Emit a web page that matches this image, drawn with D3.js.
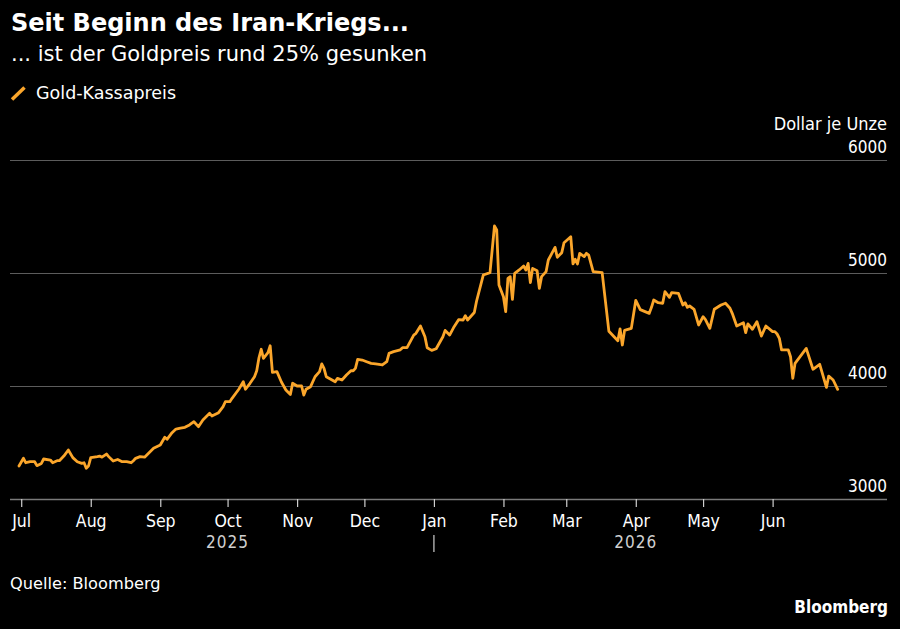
<!DOCTYPE html>
<html>
<head>
<meta charset="utf-8">
<script src="https://cdn.jsdelivr.net/npm/d3@7"></script>
<style>
  html, body { margin: 0; padding: 0; background: #000; }
  svg { display: block; }
  text { font-family: 'DejaVu Sans Condensed', 'DejaVu Sans', sans-serif; font-stretch: condensed; }
  text.wide { font-family: 'DejaVu Sans', sans-serif; font-stretch: normal; }
</style>
</head>
<body>
<svg id="chart"></svg>
<script>
// Gold-Kassapreis, Dollar je Unze
const dates = [
  "2025-06-30","2025-07-02","2025-07-03","2025-07-05","2025-07-07","2025-07-08","2025-07-10","2025-07-11","2025-07-14","2025-07-15",
  "2025-07-17","2025-07-18","2025-07-20","2025-07-22","2025-07-24","2025-07-26","2025-07-28","2025-07-29","2025-07-30","2025-07-31",
  "2025-08-01","2025-08-04","2025-08-05","2025-08-06","2025-08-08","2025-08-09","2025-08-11","2025-08-13","2025-08-15","2025-08-17",
  "2025-08-19","2025-08-20","2025-08-21","2025-08-23","2025-08-25","2025-08-27","2025-08-29",
  "2025-09-01","2025-09-03","2025-09-04","2025-09-06","2025-09-08","2025-09-10","2025-09-12","2025-09-14","2025-09-16","2025-09-18",
  "2025-09-20","2025-09-23","2025-09-24","2025-09-27","2025-09-29","2025-09-30",
  "2025-10-02","2025-10-03","2025-10-06","2025-10-08","2025-10-09","2025-10-11","2025-10-13","2025-10-14","2025-10-15","2025-10-16",
  "2025-10-17","2025-10-19","2025-10-20","2025-10-21","2025-10-23","2025-10-25","2025-10-27","2025-10-29","2025-10-30",
  "2025-11-01","2025-11-03","2025-11-04","2025-11-05","2025-11-07","2025-11-09","2025-11-11","2025-11-12","2025-11-13","2025-11-14",
  "2025-11-18","2025-11-19","2025-11-21","2025-11-23","2025-11-25","2025-11-26","2025-11-27","2025-11-28","2025-11-30",
  "2025-12-02","2025-12-04","2025-12-06","2025-12-09","2025-12-11","2025-12-12","2025-12-14","2025-12-17","2025-12-18","2025-12-20",
  "2025-12-23","2025-12-24","2025-12-26","2025-12-28","2025-12-29","2025-12-31",
  "2026-01-02","2026-01-05","2026-01-06","2026-01-08","2026-01-10","2026-01-12","2026-01-14","2026-01-15","2026-01-16","2026-01-19",
  "2026-01-20","2026-01-23","2026-01-26","2026-01-28","2026-01-29","2026-01-30",
  "2026-02-01","2026-02-02","2026-02-03","2026-02-04","2026-02-05","2026-02-06","2026-02-08","2026-02-10","2026-02-11","2026-02-12",
  "2026-02-13","2026-02-14","2026-02-16","2026-02-17","2026-02-18","2026-02-20","2026-02-21","2026-02-24","2026-02-25","2026-02-27","2026-02-28",
  "2026-03-03","2026-03-04","2026-03-05","2026-03-06","2026-03-07","2026-03-09","2026-03-10","2026-03-11","2026-03-13","2026-03-17",
  "2026-03-20","2026-03-24","2026-03-25","2026-03-26","2026-03-27","2026-03-30",
  "2026-04-01","2026-04-03","2026-04-07","2026-04-08","2026-04-09","2026-04-11","2026-04-13","2026-04-14","2026-04-16","2026-04-17",
  "2026-04-20","2026-04-22","2026-04-23","2026-04-24","2026-04-25","2026-04-27","2026-04-29",
  "2026-05-01","2026-05-02","2026-05-04","2026-05-06","2026-05-09","2026-05-11","2026-05-13","2026-05-14","2026-05-16","2026-05-19",
  "2026-05-20","2026-05-21","2026-05-23","2026-05-25","2026-05-27","2026-05-29",
  "2026-06-01","2026-06-02","2026-06-03","2026-06-04","2026-06-05","2026-06-08","2026-06-09","2026-06-10","2026-06-11","2026-06-16",
  "2026-06-19","2026-06-22","2026-06-25","2026-06-26","2026-06-28","2026-06-30"
];
const prices = [
  3292,3360,3321,3330,3330,3295,3315,3354,3345,3321,
  3339,3339,3380,3434,3366,3330,3315,3321,3272,3292,
  3366,3375,3380,3370,3398,3375,3336,3350,3330,3330,
  3321,3339,3360,3375,3370,3410,3449,
  3478,3546,3528,3581,3619,3628,3634,3655,3684,3640,
  3699,3758,3735,3764,3817,3861,
  3861,3891,3971,4038,3971,4024,4082,4135,4250,4325,
  4245,4295,4356,4120,4127,4035,3965,3925,4024,
  4000,4000,3920,3971,3994,4082,4127,4195,4156,4082,
  4038,4068,4053,4097,4135,4135,4156,4236,4230,
  4215,4200,4195,4186,4215,4289,4304,4320,4339,4339,
  4451,4466,4531,4436,4338,4315,
  4330,4436,4492,4451,4525,4587,4584,4622,4584,4650,
  4750,4982,5003,5416,5381,4894,
  4790,4658,4953,4968,4767,4997,5027,5062,5027,5085,
  4915,5041,5020,4864,4968,5012,5115,5227,5139,5180,5268,
  5321,5080,5121,5080,5174,5145,5174,5159,5012,5003,
  4485,4400,4506,4363,4492,4510,
  4758,4676,4643,4696,4761,4737,4732,4835,4785,4826,
  4820,4717,4737,4696,4708,4679,4540,
  4613,4590,4510,4679,4717,4732,4688,4643,4531,4560,
  4472,4549,4502,4569,4442,4531,
  4481,4481,4460,4422,4319,4319,4259,4068,4200,4333,
  4148,4192,3988,4088,4053,3971
];
const yTicks = [3000, 4000, 5000, 6000];
const yearLabels = ["2025", "2026"];
const yearLabelDates = ["2025-10-01", "2026-04-01"];
const yearBreak = "2026-01-01";

const title = "Seit Beginn des Iran-Kriegs...";
const subtitle = "... ist der Goldpreis rund 25% gesunken";
const seriesName = "Gold-Kassapreis";
const unit = "Dollar je Unze";
const source = "Quelle: Bloomberg";

const width = 900, height = 629;
const plotLeft = 10, plotRight = 887, plotTop = 160, plotBottom = 499;
const orange = "#fba62b";

const parse = d3.timeParse("%Y-%m-%d");
const data = dates.map((d, i) => ({date: parse(d), value: prices[i]}));

const x = d3.scaleTime()
  .domain([new Date(2025, 5, 26), new Date(2026, 6, 22)])
  .range([plotLeft, plotRight]);
const y = d3.scaleLinear()
  .domain([3000, 6000])
  .range([plotBottom, plotTop]);

const svg = d3.select("#chart")
  .attr("width", width)
  .attr("height", height)
  .style("background", "#000");

// header
svg.append("text")
  .attr("class", "wide")
  .attr("x", 11).attr("y", 31)
  .attr("fill", "#fff")
  .attr("font-weight", "bold")
  .attr("font-size", 24)
  .text(title);

svg.append("text")
  .attr("class", "wide")
  .attr("x", 11).attr("y", 61)
  .attr("fill", "#fff")
  .attr("font-size", 21)
  .text(subtitle);

svg.append("line")
  .attr("x1", 12).attr("y1", 99.5)
  .attr("x2", 24.5).attr("y2", 87.5)
  .attr("stroke", orange)
  .attr("stroke-width", 3.5);

svg.append("text")
  .attr("class", "wide")
  .attr("x", 36).attr("y", 99)
  .attr("fill", "#fff")
  .attr("font-size", 17.5)
  .text(seriesName);

// y axis: gridlines with labels sitting on top, right aligned
const yAxis = svg.append("g")
  .attr("transform", `translate(${plotRight},0)`)
  .call(d3.axisRight(y)
    .tickValues(yTicks)
    .tickSize(-(plotRight - plotLeft))
    .tickFormat(d3.format("d")));
yAxis.select(".domain").remove();
yAxis.selectAll(".tick line")
  .attr("stroke", d => d === 3000 ? "#7a7a7a" : "#5c5c5c")
  .attr("stroke-width", d => d === 3000 ? 1.5 : 1.2);
yAxis.selectAll(".tick text")
  .attr("x", 0)
  .attr("y", -8)
  .attr("dy", 0)
  .attr("text-anchor", "end")
  .attr("fill", "#fff")
  .attr("font-size", 17);

svg.append("text")
  .attr("x", plotRight).attr("y", plotTop - 30)
  .attr("text-anchor", "end")
  .attr("fill", "#fff")
  .attr("font-size", 18)
  .text(unit);

// x axis
const months = d3.timeMonth.range(new Date(2025, 6, 1), new Date(2026, 6, 1));
const xAxis = svg.append("g")
  .attr("transform", `translate(0,${plotBottom})`)
  .call(d3.axisBottom(x)
    .tickValues(months)
    .tickSize(8)
    .tickFormat(d3.timeFormat("%b")));
xAxis.select(".domain").remove();
xAxis.selectAll(".tick line").attr("stroke", "#cfcfcf").attr("stroke-width", 1.2);
xAxis.selectAll(".tick text")
  .attr("y", 28)
  .attr("dy", 0)
  .attr("fill", "#fff")
  .attr("font-size", 17.5);

svg.append("g")
  .selectAll("text")
  .data(yearLabels)
  .join("text")
  .attr("x", (d, i) => x(parse(yearLabelDates[i])))
  .attr("y", plotBottom + 49)
  .attr("text-anchor", "middle")
  .attr("fill", "#cfcfcf")
  .attr("font-size", 17)
  .attr("letter-spacing", 1)
  .text(d => d);

svg.append("line")
  .attr("x1", x(parse(yearBreak))).attr("x2", x(parse(yearBreak)))
  .attr("y1", plotBottom + 36).attr("y2", plotBottom + 53)
  .attr("stroke", "#cfcfcf")
  .attr("stroke-width", 1.2);

// the series
const line = d3.line()
  .x(d => x(d.date))
  .y(d => y(d.value));

svg.append("path")
  .datum(data)
  .attr("fill", "none")
  .attr("stroke", orange)
  .attr("stroke-width", 2.8)
  .attr("stroke-linejoin", "round")
  .attr("stroke-linecap", "round")
  .attr("d", line);

// footer
svg.append("text")
  .attr("class", "wide")
  .attr("x", 10).attr("y", 589)
  .attr("fill", "#fff")
  .attr("font-size", 16.2)
  .text(source);

svg.append("text")
  .attr("x", 888).attr("y", 613)
  .attr("text-anchor", "end")
  .attr("fill", "#fff")
  .attr("font-weight", "bold")
  .attr("font-size", 17)
  .text("Bloomberg");
</script>
</body>
</html>
